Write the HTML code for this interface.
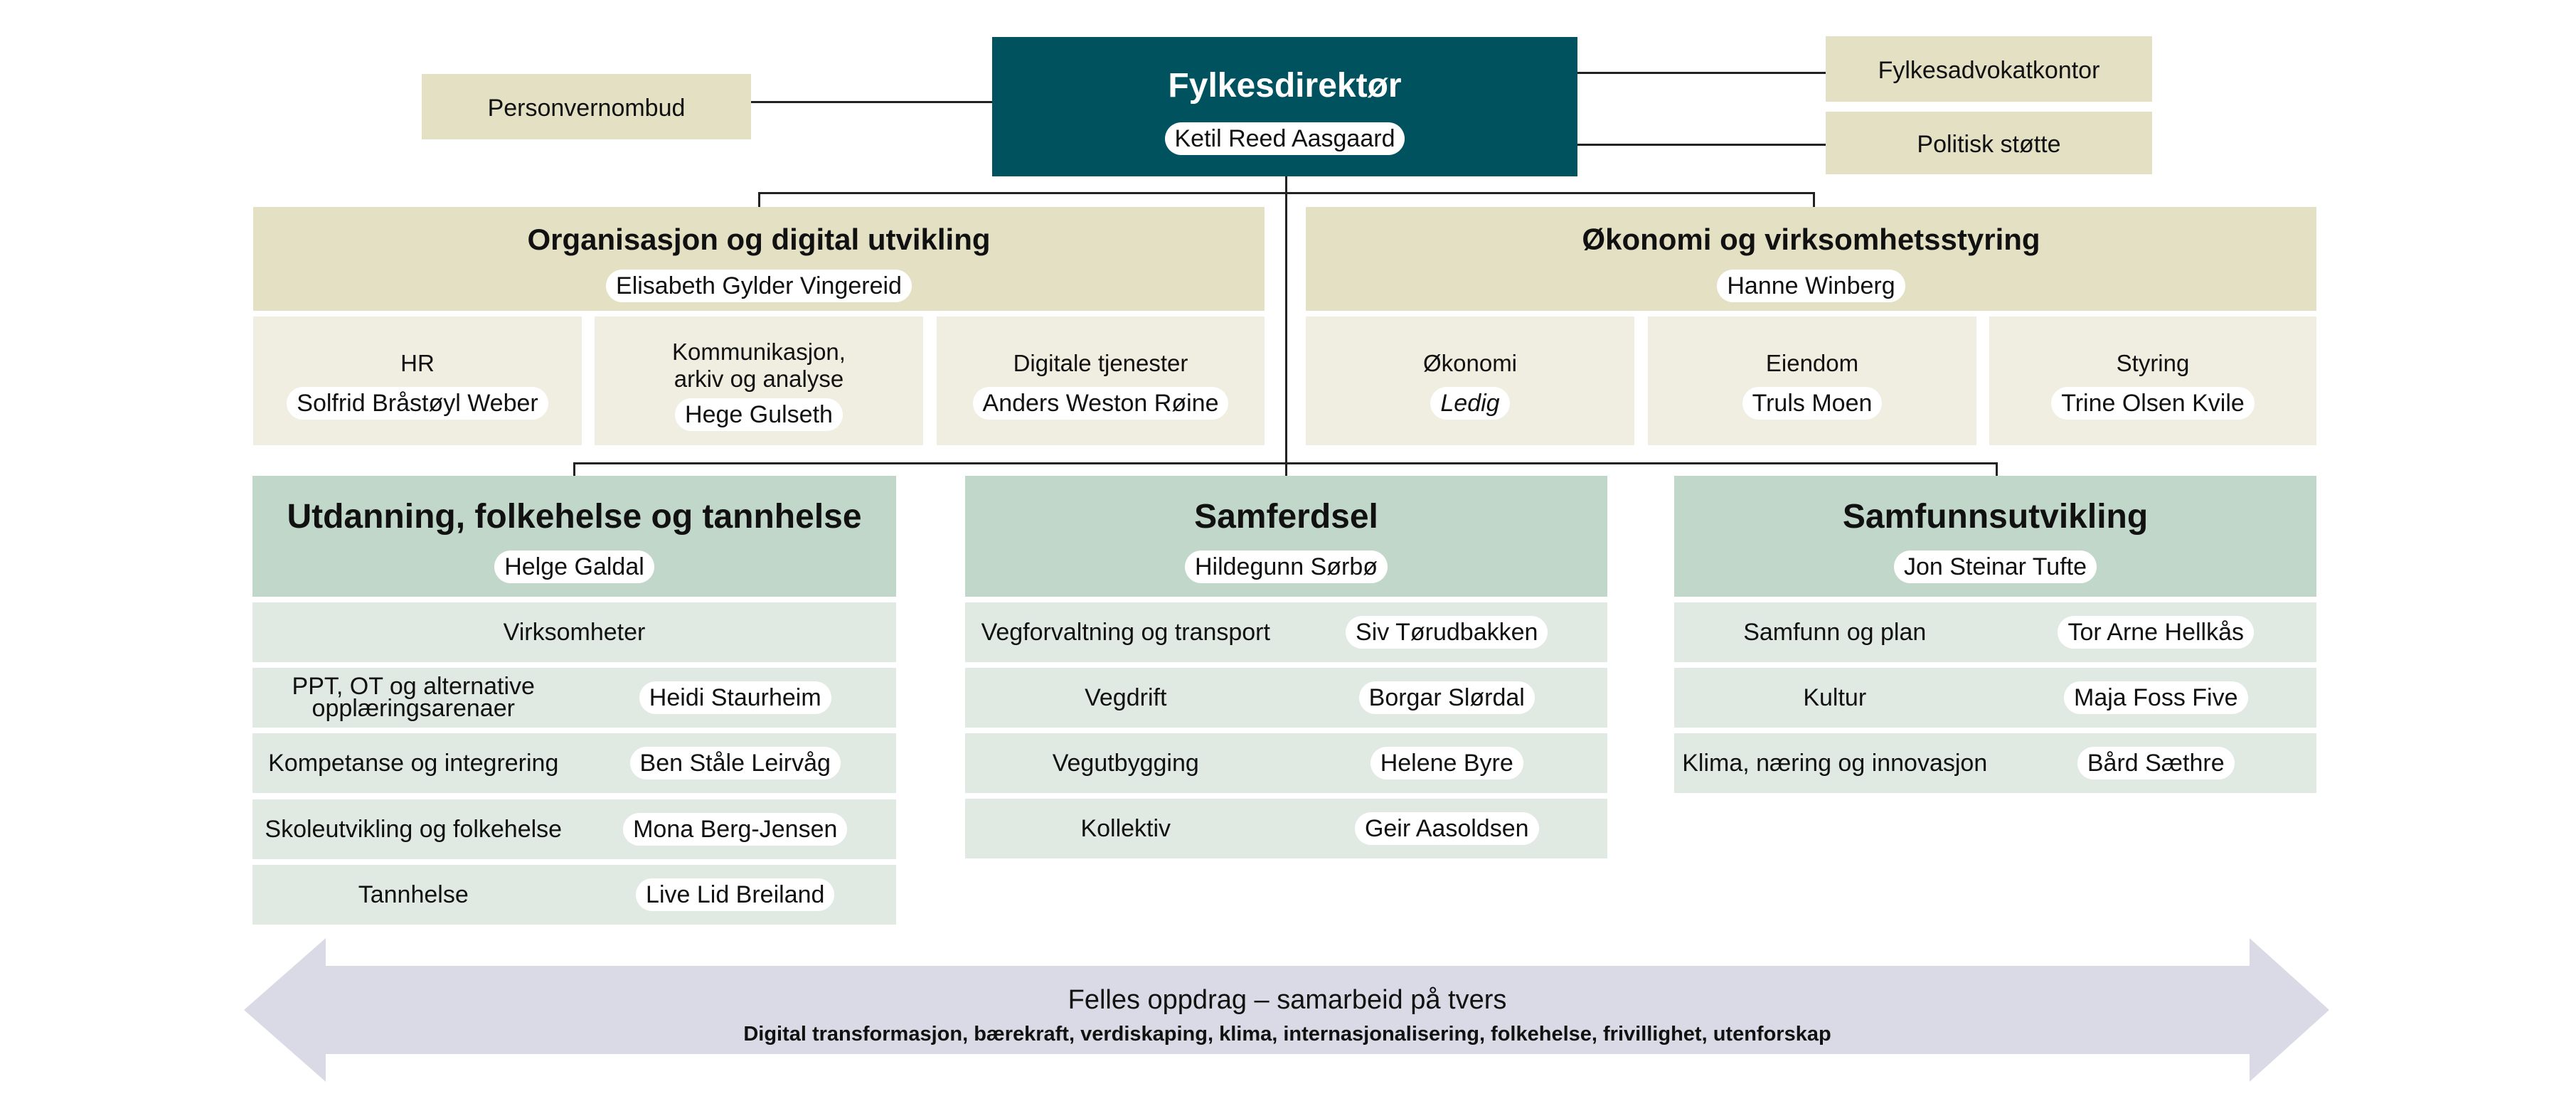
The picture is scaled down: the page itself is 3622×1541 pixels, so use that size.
<!DOCTYPE html>
<html><head><meta charset="utf-8"><style>
*{margin:0;padding:0;box-sizing:border-box}
body{width:3622px;height:1541px;background:#fff;position:relative;overflow:hidden;font-family:"Liberation Sans",sans-serif;color:#111}
.b{position:absolute;display:flex;flex-direction:column;align-items:center;justify-content:center;text-align:center}
.p{background:#fff;border-radius:24px;padding:0 14px;height:46px;line-height:46px;font-size:34px;display:inline-block;white-space:nowrap}
.l{position:absolute;background:#222}
.t{font-size:42px;font-weight:bold;margin-bottom:18px}
.s{font-size:33px;margin-bottom:14px;line-height:38px}
.tan{background:#E3E0C4}.ltan{background:#F0EEE1}.grn{background:#C1D7C9}.lgr{background:#E0EAE3}
.pt{padding-top:10px}
.row{position:absolute;height:84px;display:flex;align-items:center}
.row .a{flex:1;text-align:center;font-size:34px;line-height:32px}
.row .c{flex:1;text-align:center}
</style></head><body>
<div class="l" style="left:1056px;top:142px;width:339px;height:3px"></div>
<div class="l" style="left:2218px;top:101px;width:349px;height:3px"></div>
<div class="l" style="left:2218px;top:202px;width:349px;height:3px"></div>
<div class="l" style="left:1807px;top:248px;width:3px;height:421px"></div>
<div class="l" style="left:1066px;top:270px;width:1486px;height:3px"></div>
<div class="l" style="left:1066px;top:270px;width:3px;height:21px"></div>
<div class="l" style="left:2549px;top:270px;width:3px;height:21px"></div>
<div class="l" style="left:806px;top:650px;width:2003px;height:3px"></div>
<div class="l" style="left:806px;top:650px;width:3px;height:19px"></div>
<div class="l" style="left:2806px;top:650px;width:3px;height:19px"></div>

<div class="b tan" style="left:593px;top:104px;width:463px;height:92px;font-size:34px;padding-top:4px">Personvernombud</div>
<div class="b pt" style="left:1395px;top:52px;width:823px;height:196px;background:#00525F">
<div style="color:#fff;font-size:48px;font-weight:bold;margin-bottom:24px">Fylkesdirektør</div><span class="p">Ketil Reed Aasgaard</span></div>
<div class="b tan" style="left:2567px;top:51px;width:459px;height:92px;font-size:34px;padding-top:4px">Fylkesadvokatkontor</div>
<div class="b tan" style="left:2567px;top:157px;width:459px;height:88px;font-size:34px;padding-top:4px">Politisk støtte</div>

<div class="b tan pt" style="left:356px;top:291px;width:1422px;height:146px"><div class="t">Organisasjon og digital utvikling</div><span class="p">Elisabeth Gylder Vingereid</span></div>
<div class="b ltan pt" style="left:356px;top:445px;width:462px;height:181px"><div class="s">HR</div><span class="p">Solfrid Bråstøyl Weber</span></div>
<div class="b ltan pt" style="left:836px;top:445px;width:462px;height:181px"><div class="s" style="margin-bottom:8px">Kommunikasjon,<br>arkiv og analyse</div><span class="p">Hege Gulseth</span></div>
<div class="b ltan pt" style="left:1317px;top:445px;width:461px;height:181px"><div class="s">Digitale tjenester</div><span class="p">Anders Weston Røine</span></div>

<div class="b tan pt" style="left:1836px;top:291px;width:1421px;height:146px"><div class="t">Økonomi og virksomhetsstyring</div><span class="p">Hanne Winberg</span></div>
<div class="b ltan pt" style="left:1836px;top:445px;width:462px;height:181px"><div class="s">Økonomi</div><span class="p"><i>Ledig</i></span></div>
<div class="b ltan pt" style="left:2317px;top:445px;width:462px;height:181px"><div class="s">Eiendom</div><span class="p">Truls Moen</span></div>
<div class="b ltan pt" style="left:2797px;top:445px;width:460px;height:181px"><div class="s">Styring</div><span class="p">Trine Olsen Kvile</span></div>

<div class="b grn pt" style="left:355px;top:669px;width:905px;height:170px"><div class="t" style="font-size:48px;margin-bottom:20px">Utdanning, folkehelse og tannhelse</div><span class="p">Helge Galdal</span></div>
<div class="row lgr" style="left:355px;top:847px;width:905px"><div class="a">Virksomheter</div></div>
<div class="row lgr" style="left:355px;top:939px;width:905px"><div class="a" style="line-height:31px">PPT, OT og alternative<br>opplæringsarenaer</div><div class="c"><span class="p">Heidi Staurheim</span></div></div>
<div class="row lgr" style="left:355px;top:1031px;width:905px"><div class="a">Kompetanse og integrering</div><div class="c"><span class="p">Ben Ståle Leirvåg</span></div></div>
<div class="row lgr" style="left:355px;top:1124px;width:905px"><div class="a">Skoleutvikling og folkehelse</div><div class="c"><span class="p">Mona Berg-Jensen</span></div></div>
<div class="row lgr" style="left:355px;top:1216px;width:905px"><div class="a">Tannhelse</div><div class="c"><span class="p">Live Lid Breiland</span></div></div>

<div class="b grn pt" style="left:1357px;top:669px;width:903px;height:170px"><div class="t" style="font-size:48px;margin-bottom:20px">Samferdsel</div><span class="p">Hildegunn Sørbø</span></div>
<div class="row lgr" style="left:1357px;top:847px;width:903px"><div class="a">Vegforvaltning og transport</div><div class="c"><span class="p">Siv Tørudbakken</span></div></div>
<div class="row lgr" style="left:1357px;top:939px;width:903px"><div class="a">Vegdrift</div><div class="c"><span class="p">Borgar Slørdal</span></div></div>
<div class="row lgr" style="left:1357px;top:1031px;width:903px"><div class="a">Vegutbygging</div><div class="c"><span class="p">Helene Byre</span></div></div>
<div class="row lgr" style="left:1357px;top:1123px;width:903px"><div class="a">Kollektiv</div><div class="c"><span class="p">Geir Aasoldsen</span></div></div>

<div class="b grn pt" style="left:2354px;top:669px;width:903px;height:170px"><div class="t" style="font-size:48px;margin-bottom:20px">Samfunnsutvikling</div><span class="p">Jon Steinar Tufte</span></div>
<div class="row lgr" style="left:2354px;top:847px;width:903px"><div class="a">Samfunn og plan</div><div class="c"><span class="p">Tor Arne Hellkås</span></div></div>
<div class="row lgr" style="left:2354px;top:939px;width:903px"><div class="a">Kultur</div><div class="c"><span class="p">Maja Foss Five</span></div></div>
<div class="row lgr" style="left:2354px;top:1031px;width:903px"><div class="a">Klima, næring og innovasjon</div><div class="c"><span class="p">Bård Sæthre</span></div></div>

<svg style="position:absolute;left:0;top:0" width="3622" height="1541">
<polygon points="343,1420 458,1319 458,1358 3163,1358 3163,1319 3275,1420 3163,1521 3163,1482 458,1482 458,1521" fill="#DADAE6"/>
<text x="1810" y="1418" text-anchor="middle" font-family="Liberation Sans" font-size="38" fill="#111">Felles oppdrag – samarbeid på tvers</text>
<text x="1810" y="1463" text-anchor="middle" font-family="Liberation Sans" font-size="29" font-weight="bold" fill="#111">Digital transformasjon, bærekraft, verdiskaping, klima, internasjonalisering, folkehelse, frivillighet, utenforskap</text>
</svg>
</body></html>
